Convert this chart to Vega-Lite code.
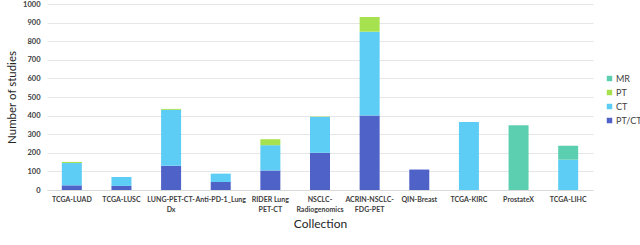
{
  "$schema": "https://vega.github.io/schema/vega-lite/v6.json",
  "width": 546,
  "height": 186,
  "autosize": {"type": "none"},
  "padding": {"left": 47, "top": 4, "right": 47, "bottom": 55},
  "background": "white",
  "config": {
    "view": {"stroke": null},
    "font": "Lato",
    "axis": {"labelFont": "Lato", "titleFont": "Lato", "labelColor": "#404040", "titleColor": "#262626", "titleFontWeight": "normal"}
  },
  "data": {
    "values": [
      {"collection": "TCGA-LUAD", "modality": "PT/CT", "studies": 25},
      {"collection": "TCGA-LUAD", "modality": "CT", "studies": 120},
      {"collection": "TCGA-LUAD", "modality": "PT", "studies": 6},
      {"collection": "TCGA-LUSC", "modality": "PT/CT", "studies": 22},
      {"collection": "TCGA-LUSC", "modality": "CT", "studies": 48},
      {"collection": "LUNG-PET-CT-Dx", "modality": "PT/CT", "studies": 130},
      {"collection": "LUNG-PET-CT-Dx", "modality": "CT", "studies": 301},
      {"collection": "LUNG-PET-CT-Dx", "modality": "PT", "studies": 5},
      {"collection": "Anti-PD-1_Lung", "modality": "PT/CT", "studies": 43},
      {"collection": "Anti-PD-1_Lung", "modality": "CT", "studies": 45},
      {"collection": "RIDER Lung PET-CT", "modality": "PT/CT", "studies": 105},
      {"collection": "RIDER Lung PET-CT", "modality": "CT", "studies": 136},
      {"collection": "RIDER Lung PET-CT", "modality": "PT", "studies": 32},
      {"collection": "NSCLC-Radiogenomics", "modality": "PT/CT", "studies": 200},
      {"collection": "NSCLC-Radiogenomics", "modality": "CT", "studies": 193},
      {"collection": "NSCLC-Radiogenomics", "modality": "PT", "studies": 2},
      {"collection": "ACRIN-NSCLC-FDG-PET", "modality": "PT/CT", "studies": 400},
      {"collection": "ACRIN-NSCLC-FDG-PET", "modality": "CT", "studies": 451},
      {"collection": "ACRIN-NSCLC-FDG-PET", "modality": "PT", "studies": 79},
      {"collection": "QIN-Breast", "modality": "PT/CT", "studies": 110},
      {"collection": "TCGA-KIRC", "modality": "CT", "studies": 365},
      {"collection": "ProstateX", "modality": "MR", "studies": 348},
      {"collection": "TCGA-LIHC", "modality": "CT", "studies": 163},
      {"collection": "TCGA-LIHC", "modality": "MR", "studies": 75}
    ]
  },
  "transform": [
    {"lookup": "modality", "from": {"data": {"values": [{"m": "PT/CT", "rank": 1}, {"m": "CT", "rank": 2}, {"m": "PT", "rank": 3}, {"m": "MR", "rank": 4}]}, "key": "m", "fields": ["rank"]}}
  ],
  "mark": {"type": "bar", "width": 20},
  "encoding": {
    "x": {
      "field": "collection",
      "type": "nominal",
      "sort": ["TCGA-LUAD", "TCGA-LUSC", "LUNG-PET-CT-Dx", "Anti-PD-1_Lung", "RIDER Lung PET-CT", "NSCLC-Radiogenomics", "ACRIN-NSCLC-FDG-PET", "QIN-Breast", "TCGA-KIRC", "ProstateX", "TCGA-LIHC"],
      "title": "Collection",
      "axis": {
        "labelAngle": 0,
        "labelFontSize": 7,
        "labelFontWeight": "bold",
        "labelPadding": 9,
        "labelBaseline": "middle",
        "labelLineHeight": 10,
        "ticks": false,
        "domainColor": "#d9d9d9",
        "titleFontSize": 12,
        "titlePadding": 6,
        "labelExpr": "datum.value == 'LUNG-PET-CT-Dx' ? ['LUNG-PET-CT-', 'Dx'] : datum.value == 'RIDER Lung PET-CT' ? ['RIDER Lung', 'PET-CT'] : datum.value == 'NSCLC-Radiogenomics' ? ['NSCLC-', 'Radiogenomics'] : datum.value == 'ACRIN-NSCLC-FDG-PET' ? ['ACRIN-NSCLC-', 'FDG-PET'] : datum.value"
      }
    },
    "y": {
      "field": "studies",
      "type": "quantitative",
      "aggregate": "sum",
      "stack": "zero",
      "scale": {"domain": [0, 1000]},
      "title": "Number of studies",
      "axis": {
        "values": [0, 100, 200, 300, 400, 500, 600, 700, 800, 900, 1000],
        "format": "d",
        "domain": false,
        "ticks": false,
        "gridColor": "#e6e6e6",
        "labelFontSize": 7.5,
        "labelFontWeight": "bold",
        "labelPadding": 7,
        "titleFontSize": 11.5,
        "titlePadding": 5
      }
    },
    "color": {
      "field": "modality",
      "type": "nominal",
      "scale": {"domain": ["MR", "PT", "CT", "PT/CT"], "range": ["#5ccfb0", "#a6e24f", "#5dcdf5", "#4f62c8"]},
      "legend": {
        "title": null,
        "orient": "none",
        "legendX": 558,
        "legendY": 70,
        "symbolType": "square",
        "symbolSize": 30,
        "labelFontSize": 9,
        "labelOffset": 2,
        "labelColor": "#404040",
        "rowPadding": 4,
        "symbolStrokeWidth": 0
      }
    },
    "order": {"field": "rank", "type": "quantitative", "aggregate": "min"}
  }
}
